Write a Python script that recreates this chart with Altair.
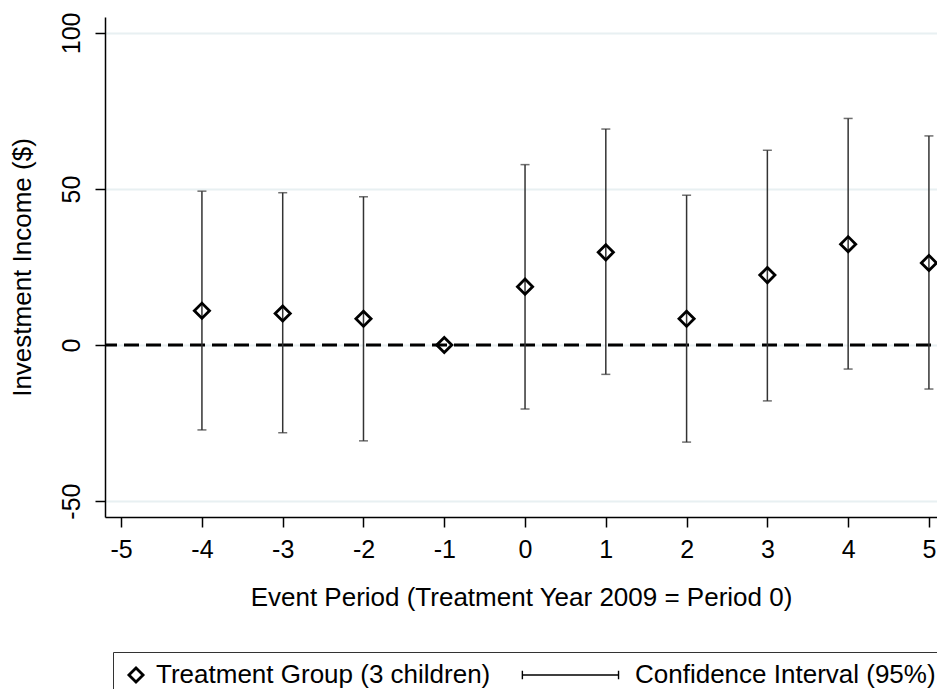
import altair as alt
import pandas as pd

# ---- data ----
period = [-4, -3, -2, -1, 0, 1, 2, 3, 4, 5]
estimate = [11.0, 10.1, 8.4, 0.0, 18.7, 29.7, 8.4, 22.4, 32.3, 26.3]
ci_low = [-27.2, -28.1, -30.7, None, -20.5, -9.4, -31.1, -17.9, -7.7, -14.1]
ci_high = [49.3, 48.8, 47.5, None, 57.8, 69.2, 48.0, 62.4, 72.6, 67.0]
x_ticks = [-5, -4, -3, -2, -1, 0, 1, 2, 3, 4, 5]
y_ticks = [-50, 0, 50, 100]
series_names = ["Treatment Group (3 children)", "Confidence Interval (95%)"]
zero_line = [0]

FONT = "Liberation Sans"
X_TITLE = "Event Period (Treatment Year 2009 = Period 0)"
Y_TITLE = "Investment Income ($)"

df = pd.DataFrame({
    "period": period,
    "estimate": estimate,
    "lo": ci_low,
    "hi": ci_high,
    "series": [series_names[0]] * len(period),
})
ci = df.dropna(subset=["lo", "hi"])
zero_df = pd.DataFrame({"val": zero_line})

x_scale = alt.Scale(domain=[-5.2, 5.1], nice=False, zero=False)
y_scale = alt.Scale(domain=[-55.1, 105.1], nice=False, zero=False)

x_axis = alt.Axis(
    values=x_ticks, labelExpr="'' + datum.value", grid=False,
    tickSize=10, tickWidth=1.5, tickColor="black",
    domainColor="black", domainWidth=1.5,
    labelFontSize=25, labelPadding=10, labelColor="black", labelFont=FONT,
    labelFlush=False, labelOverlap=False,
    titleFontSize=26, titleFontWeight="normal", titleFont=FONT,
    titleColor="black", titlePadding=22,
)
y_axis = alt.Axis(
    values=y_ticks, labelExpr="'' + datum.value", grid=True,
    gridColor="#e8f0f2", gridWidth=2,
    tickSize=10, tickWidth=1.5, tickColor="black",
    domainColor="black", domainWidth=1.5,
    labelFontSize=25, labelPadding=11, labelColor="black", labelFont=FONT,
    labelAngle=270, labelAlign="center", labelBaseline="bottom",
    labelFlush=False, labelOverlap=False,
    titleFontSize=26, titleFontWeight="normal", titleFont=FONT,
    titleColor="black", titlePadding=24, titleAngle=270,
)

X = alt.X("period:Q", scale=x_scale, axis=x_axis, title=X_TITLE)

zero_rule = alt.Chart(zero_df).mark_rule(
    color="black", strokeWidth=3, strokeDash=[15, 7], strokeDashOffset=16
).encode(y=alt.Y("val:Q", scale=y_scale, axis=y_axis, title=Y_TITLE))

bars = alt.Chart(ci).mark_rule(color="#333333", strokeWidth=1.5).encode(
    x=X,
    y=alt.Y("lo:Q", scale=y_scale, axis=y_axis, title=Y_TITLE),
    y2="hi:Q",
)

caps = alt.Chart(ci).transform_fold(["lo", "hi"], as_=["bound", "val"]).mark_tick(
    orient="horizontal", size=9, thickness=1.5, color="#333333"
).encode(
    x=X,
    y=alt.Y("val:Q", scale=y_scale, axis=y_axis, title=Y_TITLE),
)

ci_path = "M-13.1,-0.6L-13.1,0.6M-13.1,0L0.5,0M0.5,-0.6L0.5,0.6"
legend = alt.Legend(
    title=None, orient="none", legendX=8, legendY=635, direction="horizontal",
    strokeColor="#333333", padding=10, labelFontSize=26, labelFont=FONT,
    labelColor="black", labelLimit=0, symbolSize=200, symbolStrokeColor="black",
    labelOffset=7, columnPadding=28,
)

points = alt.Chart(df).mark_point(
    filled=False, size=230, color="black", opacity=1
).encode(
    x=X,
    y=alt.Y("estimate:Q", scale=y_scale, axis=y_axis, title=Y_TITLE),
    shape=alt.Shape("series:N", scale=alt.Scale(domain=series_names, range=["diamond", ci_path]), legend=legend),
    strokeWidth=alt.StrokeWidth("series:N", scale=alt.Scale(domain=series_names, range=[2.8, 1.4]), legend=legend),
)

chart = alt.layer(zero_rule, bars, caps, points).properties(
    width=832, height=500,
    padding={"left": 97, "top": 9, "right": 0, "bottom": 172},
    autosize=alt.AutoSizeParams(type="none"),
).configure(font=FONT).configure_view(stroke=None)

chart.save("out.html", embed_options={"renderer": "svg", "actions": False})
